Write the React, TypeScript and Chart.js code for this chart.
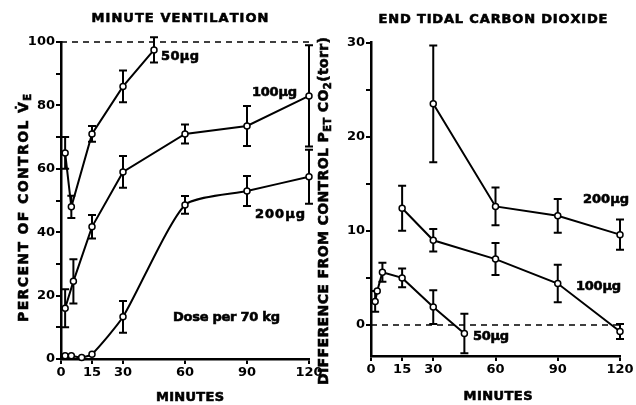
import React, { useEffect, useRef } from "react";
import { Chart, registerables } from "chart.js";
Chart.register(...registerables);

// ---------- data ----------
const xTickValues = [0, 15, 30, 60, 90, 120];
const veTickValues = [0, 10, 20, 30, 40, 50, 60, 70, 80, 90, 100];
const co2TickValues = [0, 5, 10, 15, 20, 25, 30];

// Minute ventilation (% of control)
const veTimes50 = [2, 5, 15, 30, 45];
const ve50 = [65, 48, 71, 86, 97.5];
const ve50Err = [5, 3.5, 2.5, 5, 4];

const veTimes100 = [2, 6, 15, 30, 60, 90, 120];
const ve100 = [16, 24.5, 41.7, 59, 71, 73.5, 83];
const ve100Err = [6, 7, 3.7, 5, 3, 6.3, 16];

const veTimes200 = [2, 5, 10, 15, 30, 60, 90, 120];
const ve200 = [1, 1, 0.5, 1.5, 13.3, 48.6, 53, 57.5];
const ve200Err = [0, 0, 0, 0, 5, 2.8, 4.7, 8.5];

// End tidal CO2 difference from control (torr)
const co2Times50 = [2, 3, 5.5, 15, 30, 45];
const co250 = [2.5, 3.6, 5.6, 5, 1.9, -0.9];
const co250Err = [1.1, 0, 1, 1, 1.8, 2.1];

const co2Times100 = [15, 30, 60, 90, 120];
const co2100 = [12.4, 9, 7, 4.4, -0.7];
const co2100Err = [2.4, 1.2, 1.7, 2, 0.8];

const co2Times200 = [30, 60, 90, 120];
const co2200 = [23.5, 12.6, 11.6, 9.6];
const co2200Err = [6.2, 2, 1.8, 1.6];

const veRefLevel = 100;
const co2RefLevel = 0;

// ---------- helpers ----------
const FONT = '"DejaVu Sans", "Liberation Sans", sans-serif';

type Part = { t: string; sub?: boolean };
type Label = {
  parts: Part[];
  x: number;
  y: number;
  w: number;
  size: number;
  align: "left" | "center";
  rot?: boolean;
};

function drawLabel(ctx: CanvasRenderingContext2D, L: Label) {
  ctx.save();
  ctx.fillStyle = "#000";
  ctx.strokeStyle = "#000";
  ctx.lineWidth = 0.6;
  ctx.textBaseline = "middle";
  ctx.textAlign = "left";
  const fontFor = (sub: boolean) =>
    `bold ${sub ? Math.round(L.size * 0.72) : L.size}px ${FONT}`;
  const glyphs: { c: string; sub: boolean; w: number }[] = [];
  for (const p of L.parts) {
    const units = p.t.match(/.\u0307?/gu) || [];
    ctx.font = fontFor(!!p.sub);
    for (const c of units) glyphs.push({ c, sub: !!p.sub, w: ctx.measureText(c).width });
  }
  const natural = glyphs.reduce((s, g) => s + g.w, 0);
  const sp = glyphs.length > 1 ? (L.w - natural) / (glyphs.length - 1) : 0;
  ctx.translate(L.x, L.y);
  if (L.rot) ctx.rotate(-Math.PI / 2);
  let x = L.align === "center" ? -L.w / 2 : 0;
  for (const g of glyphs) {
    ctx.font = fontFor(g.sub);
    const yy = g.sub ? L.size * 0.32 : 0;
    ctx.fillText(g.c, x, yy);
    ctx.strokeText(g.c, x, yy);
    x += g.w + sp;
  }
  ctx.restore();
}

const errorBarPlugin = {
  id: "errbars",
  beforeDatasetsDraw(chart: any) {
    const ctx = chart.ctx as CanvasRenderingContext2D;
    const xs = chart.scales.x;
    const ys = chart.scales.y;
    chart.data.datasets.forEach((ds: any) => {
      if (!ds.errors) return;
      ctx.save();
      ctx.strokeStyle = "#000";
      ctx.lineWidth = 2;
      ds.data.forEach((pt: any, i: number) => {
        const e = ds.errors[i];
        if (!e) return;
        const px = xs.getPixelForValue(pt.x);
        const y1 = ys.getPixelForValue(pt.y + e);
        const y2 = ys.getPixelForValue(pt.y - e);
        ctx.beginPath();
        ctx.moveTo(px, y1);
        ctx.lineTo(px, y2);
        ctx.moveTo(px - 4, y1);
        ctx.lineTo(px + 4, y1);
        ctx.moveTo(px - 4, y2);
        ctx.lineTo(px + 4, y2);
        ctx.stroke();
      });
      ctx.restore();
    });
  },
};

const labelPlugin = {
  id: "labels",
  afterDraw(chart: any) {
    const labels: Label[] = chart.options.plugins.labels?.items || [];
    labels.forEach((L) => drawLabel(chart.ctx, L));
  },
};

function series(times: number[], vals: number[], errs: number[] | null, tension = 0) {
  return {
    data: times.map((t, i) => ({ x: t, y: vals[i] })),
    errors: errs,
    borderColor: "#000",
    borderWidth: 2,
    pointRadius: 3,
    pointBackgroundColor: "#fff",
    pointBorderColor: "#000",
    pointBorderWidth: 1.5,
    tension,
    clip: false,
  };
}

function refLine(level: number) {
  return {
    data: [
      { x: 0, y: level },
      { x: 120, y: level },
    ],
    borderColor: "#000",
    borderWidth: 1.5,
    borderDash: [6, 5],
    pointRadius: 0,
    clip: false,
  };
}

function makeConfig(opts: {
  datasets: any[];
  yMin: number;
  yMax: number;
  yTicks: number[];
  yLabelEvery: number;
  yWidth: number;
  padding: { left: number; right: number; top: number; bottom: number };
  labels: Label[];
}) {
  const tickFont = { family: FONT, size: 13, weight: "bold" as const };
  return {
    type: "line" as const,
    data: { datasets: opts.datasets },
    plugins: [errorBarPlugin, labelPlugin],
    options: {
      responsive: false,
      animation: false as const,
      layout: { padding: opts.padding },
      plugins: {
        legend: { display: false },
        tooltip: { enabled: false },
        title: { display: false },
        labels: { items: opts.labels },
      },
      scales: {
        x: {
          type: "linear" as const,
          min: 0,
          max: 120,
          afterBuildTicks: (s: any) => {
            s.ticks = xTickValues.map((v) => ({ value: v }));
          },
          afterFit: (s: any) => {
            s.height = 30;
            s.paddingLeft = 0;
            s.paddingRight = 0;
          },
          ticks: {
            font: tickFont,
            color: "#000",
            padding: 1,
            maxRotation: 0,
            autoSkip: false,
          },
          grid: {
            drawOnChartArea: false,
            drawTicks: true,
            tickLength: 5,
            color: "#000",
            lineWidth: 2,
          },
          border: { color: "#000", width: 2.5 },
        },
        y: {
          type: "linear" as const,
          min: opts.yMin,
          max: opts.yMax,
          afterBuildTicks: (s: any) => {
            s.ticks = opts.yTicks.map((v) => ({ value: v }));
          },
          afterFit: (s: any) => {
            s.width = opts.yWidth;
            s.paddingTop = 0;
            s.paddingBottom = 0;
          },
          ticks: {
            font: tickFont,
            color: "#000",
            padding: 1,
            autoSkip: false,
            callback: (v: any) => (Number(v) % opts.yLabelEvery === 0 ? String(v) : ""),
          },
          grid: {
            drawOnChartArea: false,
            drawTicks: true,
            tickLength: 5,
            color: "#000",
            lineWidth: 2,
          },
          border: { color: "#000", width: 2.5 },
        },
      },
    },
  };
}

export default function App() {
  const leftRef = useRef<HTMLCanvasElement | null>(null);
  const rightRef = useRef<HTMLCanvasElement | null>(null);

  useEffect(() => {
    const leftLabels: Label[] = [
      { parts: [{ t: "MINUTE VENTILATION" }], x: 180, y: 19, w: 177, size: 13, align: "center" },
      { parts: [{ t: "MINUTES" }], x: 190, y: 398, w: 68, size: 13, align: "center" },
      {
        parts: [{ t: "PERCENT OF CONTROL V\u0307" }, { t: "E", sub: true }],
        x: 24,
        y: 208,
        w: 228,
        size: 14,
        align: "center",
        rot: true,
      },
      { parts: [{ t: "50µg" }], x: 161, y: 57, w: 38, size: 13, align: "left" },
      { parts: [{ t: "100µg" }], x: 252, y: 93, w: 45, size: 13, align: "left" },
      { parts: [{ t: "200µg" }], x: 255, y: 215, w: 50, size: 13, align: "left" },
      { parts: [{ t: "Dose per 70 kg" }], x: 173, y: 318, w: 107, size: 13, align: "left" },
    ];
    const rightLabels: Label[] = [
      { parts: [{ t: "END TIDAL CARBON DIOXIDE" }], x: 181, y: 20, w: 229, size: 13, align: "center" },
      { parts: [{ t: "MINUTES" }], x: 186, y: 397, w: 69, size: 13, align: "center" },
      {
        parts: [
          { t: "DIFFERENCE FROM CONTROL P" },
          { t: "ET", sub: true },
          { t: " CO" },
          { t: "2", sub: true },
          { t: "(torr)" },
        ],
        x: 12,
        y: 211,
        w: 348,
        size: 14,
        align: "center",
        rot: true,
      },
      { parts: [{ t: "200µg" }], x: 271, y: 200, w: 46, size: 13, align: "left" },
      { parts: [{ t: "100µg" }], x: 264, y: 287, w: 45, size: 13, align: "left" },
      { parts: [{ t: "50µg" }], x: 161, y: 337, w: 36, size: 13, align: "left" },
    ];

    const left = new Chart(
      leftRef.current as HTMLCanvasElement,
      makeConfig({
        datasets: [
          refLine(veRefLevel),
          series(veTimes50, ve50, ve50Err),
          series(veTimes100, ve100, ve100Err),
          series(veTimes200, ve200, ve200Err, 0.2),
        ],
        yMin: 0,
        yMax: 100,
        yTicks: veTickValues,
        yLabelEvery: 20,
        yWidth: 40,
        padding: { left: 21, right: 21, top: 42, bottom: 16 },
        labels: leftLabels,
      }) as any
    );
    const right = new Chart(
      rightRef.current as HTMLCanvasElement,
      makeConfig({
        datasets: [
          refLine(co2RefLevel),
          series(co2Times50, co250, co250Err),
          series(co2Times100, co2100, co2100Err),
          series(co2Times200, co2200, co2200Err),
        ],
        yMin: -3.3,
        yMax: 30,
        yTicks: co2TickValues,
        yLabelEvery: 10,
        yWidth: 36,
        padding: { left: 23, right: 16, top: 42.7, bottom: 19 },
        labels: rightLabels,
      }) as any
    );
    return () => {
      left.destroy();
      right.destroy();
    };
  }, []);

  return (
    <div style={{ position: "absolute", left: 0, top: 0, width: 636, height: 405, background: "#fff" }}>
      <canvas ref={leftRef} width={330} height={405} style={{ position: "absolute", left: 0, top: 0 }} />
      <canvas ref={rightRef} width={324} height={405} style={{ position: "absolute", left: 312, top: 0 }} />
    </div>
  );
}
